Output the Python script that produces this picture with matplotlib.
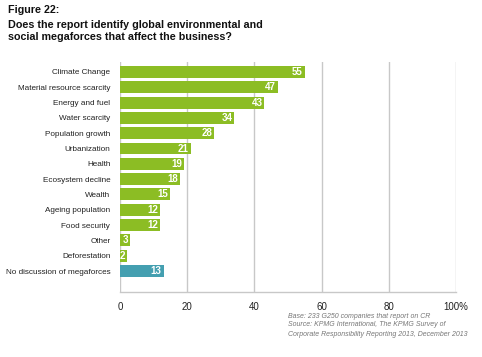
import matplotlib
matplotlib.use("Agg")
import matplotlib.pyplot as plt

categories = ["Climate Change", "Material resource scarcity", "Energy and fuel",
              "Water scarcity", "Population growth", "Urbanization", "Health",
              "Ecosystem decline", "Wealth", "Ageing population", "Food security",
              "Other", "Deforestation", "No discussion of megaforces"]
values = [55, 47, 43, 34, 28, 21, 19, 18, 15, 12, 12, 3, 2, 13]
xticks = [0, 20, 40, 60, 80, 100]
xticklabels = ["0", "20", "40", "60", "80", "100%"]

green = "#8cbd24"
blue = "#449fb0"
grid = "#c8c8c8"

plt.rcParams['font.family'] = ['Liberation Sans', 'DejaVu Sans']

fig = plt.figure(figsize=(4.82, 3.57), dpi=100)
ax = fig.add_axes([120 / 482, 1 - 292 / 357, 336 / 482, 230 / 357])

colors = [green] * (len(values) - 1) + [blue]
ypos = list(range(len(values)))
ax.barh(ypos, values, height=0.78, color=colors, zorder=3)
for y, v in zip(ypos, values):
    ax.text(v - 0.6, y, str(v), ha="right", va="center", color="white",
            fontsize=7, fontweight="bold", zorder=4)

ax.set_xlim(0, 100)
ax.set_ylim(len(values) - 1 + 1.37, -0.65)
ax.set_yticks(ypos)
ax.set_yticklabels(categories, fontsize=5.9, color="#222222")
ax.set_xticks(xticks)
ax.set_xticklabels(xticklabels, fontsize=7, color="#222222")
ax.tick_params(length=0)
ax.tick_params(axis="x", pad=7)
ax.tick_params(axis="y", pad=7)
for x in xticks:
    ax.axvline(x, color=grid, lw=1, zorder=1)
for s in ["top", "right", "left"]:
    ax.spines[s].set_visible(False)
ax.spines["bottom"].set_color(grid)
ax.spines["bottom"].set_linewidth(1)

fig.text(8 / 482, 1 - 10 / 357, "Figure 22:", fontsize=7.75, fontweight="bold",
         va="center", ha="left", color="#111111")
fig.text(8 / 482, 1 - 31 / 357,
         "Does the report identify global environmental and\nsocial megaforces that affect the business?",
         fontsize=7.75, fontweight="bold", va="center", ha="left", color="#111111",
         linespacing=1.3)

fig.text(288 / 482, 1 - 325 / 357,
         "Base: 233 G250 companies that report on CR\n"
         "Source: KPMG International, The KPMG Survey of\n"
         "Corporate Responsibility Reporting 2013, December 2013",
         fontsize=5, style="italic", color="#777777", va="center", ha="left",
         linespacing=1.4)

fig.savefig("out.png", dpi=100)
